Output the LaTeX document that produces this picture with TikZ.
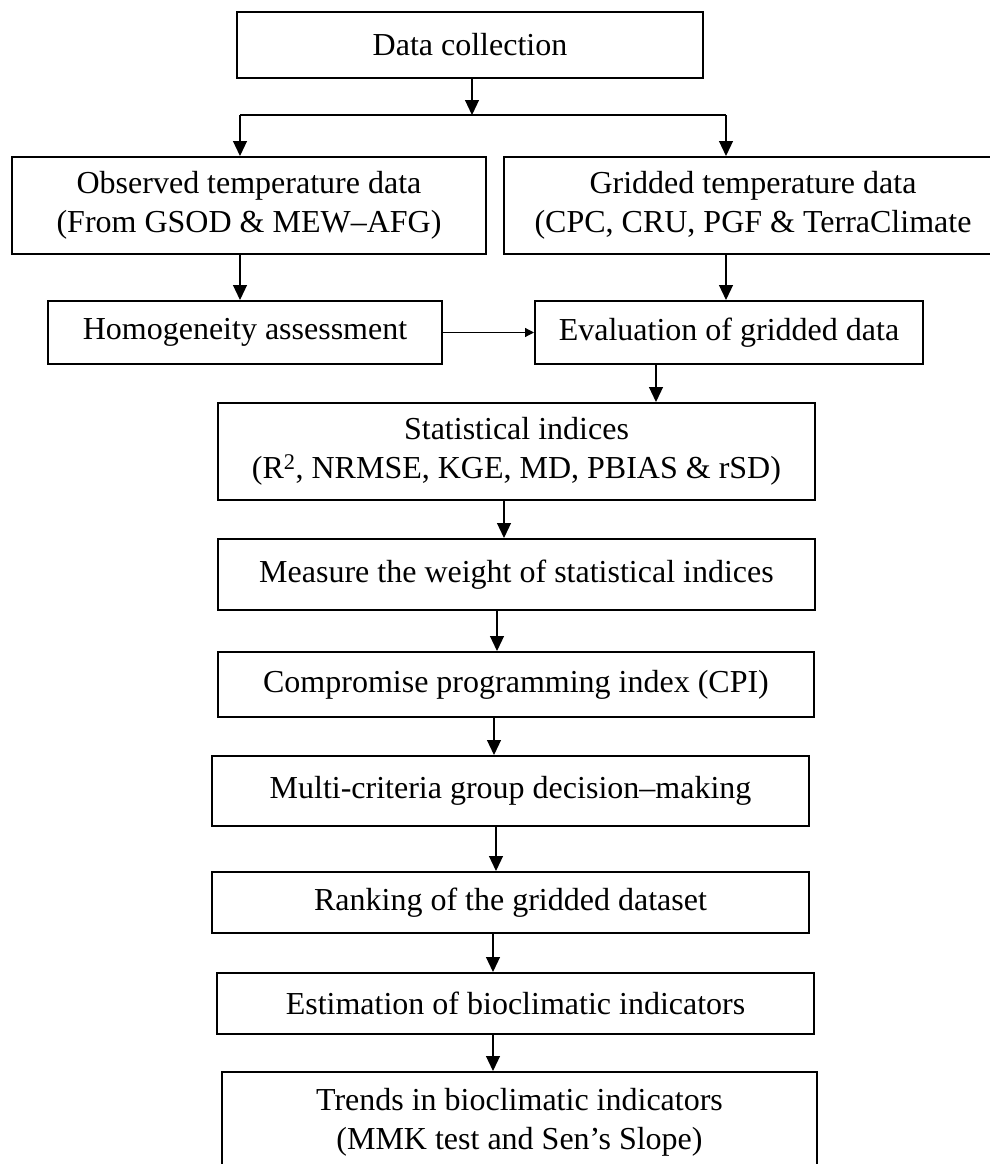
\documentclass[tikz,border=0pt]{standalone}
\usepackage{fontspec}
\setmainfont{Liberation Serif}
\usetikzlibrary{arrows.meta}
\begin{document}
\begin{tikzpicture}[x=1pt,y=-1pt,
  box/.style={draw, line width=2pt, rectangle, inner sep=0pt, align=center,
    font=\fontsize{32}{39}\selectfont},
  arr/.style={line width=1.2pt, -{Triangle[length=15pt,width=14pt]}},
  sarr/.style={line width=1.2pt, -{Triangle[length=9pt,width=9pt]}},
  ln/.style={line width=1.2pt}]
\path[use as bounding box] (0,0) rectangle (990,1164);
\clip (0,0) rectangle (990,1164);
\node[box, minimum width=466pt, minimum height=66pt] (data) at (470,45) {Data collection};
\node[box, minimum width=474pt, minimum height=97pt] (obs) at (249,205.5) {Observed temperature data\\(From GSOD \& MEW–AFG)};
\node[box, minimum width=498pt, minimum height=97pt] (grid) at (753,205.5) {Gridded temperature data\\(CPC, CRU, PGF \& TerraClimate};
\node[box, minimum width=394pt, minimum height=63pt] (homog) at (245,332.5) {Homogeneity assessment};
\node[box, minimum width=388pt, minimum height=63pt] (eval) at (729,332.5) {Evaluation of gridded data};
\node[box, minimum width=597pt, minimum height=97pt] (stat) at (516.5,451.5) {Statistical indices\\(R\textsuperscript{2}, NRMSE, KGE, MD, PBIAS \& rSD)};
\node[box, minimum width=597pt, minimum height=71pt] (meas) at (516.5,574.5) {Measure the weight of statistical indices};
\node[box, minimum width=596pt, minimum height=65pt] (comp) at (516,684.5) {Compromise programming index (CPI)};
\node[box, minimum width=597pt, minimum height=70pt] (multi) at (510.5,791) {Multi-criteria group decision–making};
\node[box, minimum width=597pt, minimum height=61pt] (rank) at (510.5,902.5) {Ranking of the gridded dataset};
\node[box, minimum width=597pt, minimum height=61pt] (est) at (515.5,1003.5) {Estimation of bioclimatic indicators};
\node[box, minimum width=595pt, minimum height=100pt] (trend) at (519.5,1122) {Trends in bioclimatic indicators\\(MMK test and Sen’s Slope)};
\coordinate (mid) at (472,115);
\coordinate (ls) at (240,115);
\coordinate (rs) at (726,115);
\draw[arr] (data.south -| mid) -- (mid);
\draw[ln] (ls) -- (rs);
\draw[arr] (ls) -- (obs.north -| ls);
\draw[arr] (rs) -- (grid.north -| rs);
\draw[arr] (obs.south -| ls) -- (homog.north -| ls);
\draw[arr] (grid.south -| rs) -- (eval.north -| rs);
\draw[sarr] (homog.east) -- (eval.west);
\draw[arr] ([xshift=-73pt]eval.south) -- ([xshift=-73pt]eval.south |- stat.north);
\draw[arr] ([xshift=-12.5pt]stat.south) -- ([xshift=-12.5pt]stat.south |- meas.north);
\draw[arr] ([xshift=-19.5pt]meas.south) -- ([xshift=-19.5pt]meas.south |- comp.north);
\draw[arr] ([xshift=-22pt]comp.south) -- ([xshift=-22pt]comp.south |- multi.north);
\draw[arr] ([xshift=-14.5pt]multi.south) -- ([xshift=-14.5pt]multi.south |- rank.north);
\draw[arr] ([xshift=-17.5pt]rank.south) -- ([xshift=-17.5pt]rank.south |- est.north);
\draw[arr] ([xshift=-22.5pt]est.south) -- ([xshift=-22.5pt]est.south |- trend.north);
\end{tikzpicture}
\end{document}
